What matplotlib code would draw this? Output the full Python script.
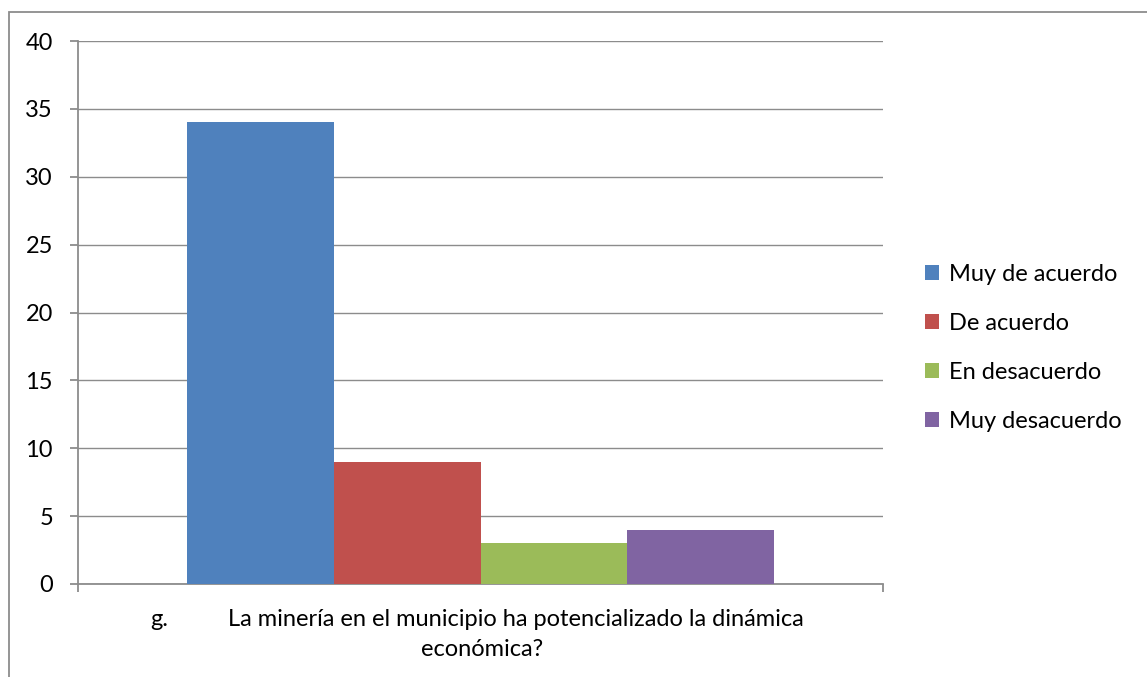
import matplotlib
matplotlib.use("Agg")
import matplotlib.pyplot as plt
from matplotlib.patches import Rectangle

categories = ["Muy de acuerdo", "De acuerdo", "En desacuerdo", "Muy desacuerdo"]
values = [34, 9, 3, 4]
colors = ["#4F81BD", "#C0504D", "#9BBB59", "#8064A2"]
yticks = [0, 5, 10, 15, 20, 25, 30, 35, 40]
xlabel_prefix = "g."
xlabel_line1 = "La minería en el municipio ha potencializado la dinámica"
xlabel_line2 = "económica?"

plt.rcParams['font.family'] = ['Lato', 'DejaVu Sans']
FS = 17

W, H = 1147, 677
fig = plt.figure(figsize=(W / 100, H / 100), dpi=100)
ax = fig.add_axes([78 / W, 1 - 584 / H, (883 - 78) / W, (584 - 41) / H])

bw = 0.182
for i, (c, v, col) in enumerate(zip(categories, values, colors)):
    ax.bar((i - 1.5) * bw, v, width=bw, color=col, label=c, zorder=3)

ax.set_xlim(-0.5, 0.5)
ax.set_ylim(0, 40)
ax.set_yticks(yticks)
ax.set_yticklabels([str(t) for t in yticks], fontsize=FS)
ax.yaxis.grid(True, color="#8c8c8c", linewidth=1.0, zorder=0)
ax.set_xticks([-0.5, 0.5])
ax.set_xticklabels(["", ""])
gray = "#8c8c8c"
for s in ["top", "right"]:
    ax.spines[s].set_visible(False)
for s in ["left", "bottom"]:
    ax.spines[s].set_color(gray)
    ax.spines[s].set_linewidth(1.3)
ax.tick_params(axis="y", length=6, width=1.3, color=gray, pad=12, labelcolor="black")
ax.tick_params(axis="x", length=6, width=1.3, color=gray)

fig.text(150 / W, 1 - 620 / H, xlabel_prefix, ha="left", va="center", fontsize=FS)
fig.text(516 / W, 1 - 620 / H, xlabel_line1, ha="center", va="center", fontsize=FS)
fig.text(482 / W, 1 - 649 / H, xlabel_line2, ha="center", va="center", fontsize=FS)

leg = fig.legend(loc="upper left", bbox_to_anchor=(925 / W, 1 - 264 / H), frameon=False,
                 fontsize=FS, handlelength=0.6, handleheight=0.6, handletextpad=0.4,
                 labelspacing=1.19, borderaxespad=0, borderpad=0)

fig.patches.append(Rectangle((9 / W, -0.1), 1.2, 1 - 12 / H + 0.1, transform=fig.transFigure,
                             fill=False, edgecolor="#8c8c8c", linewidth=1.3))

fig.savefig("out.png", dpi=100)
